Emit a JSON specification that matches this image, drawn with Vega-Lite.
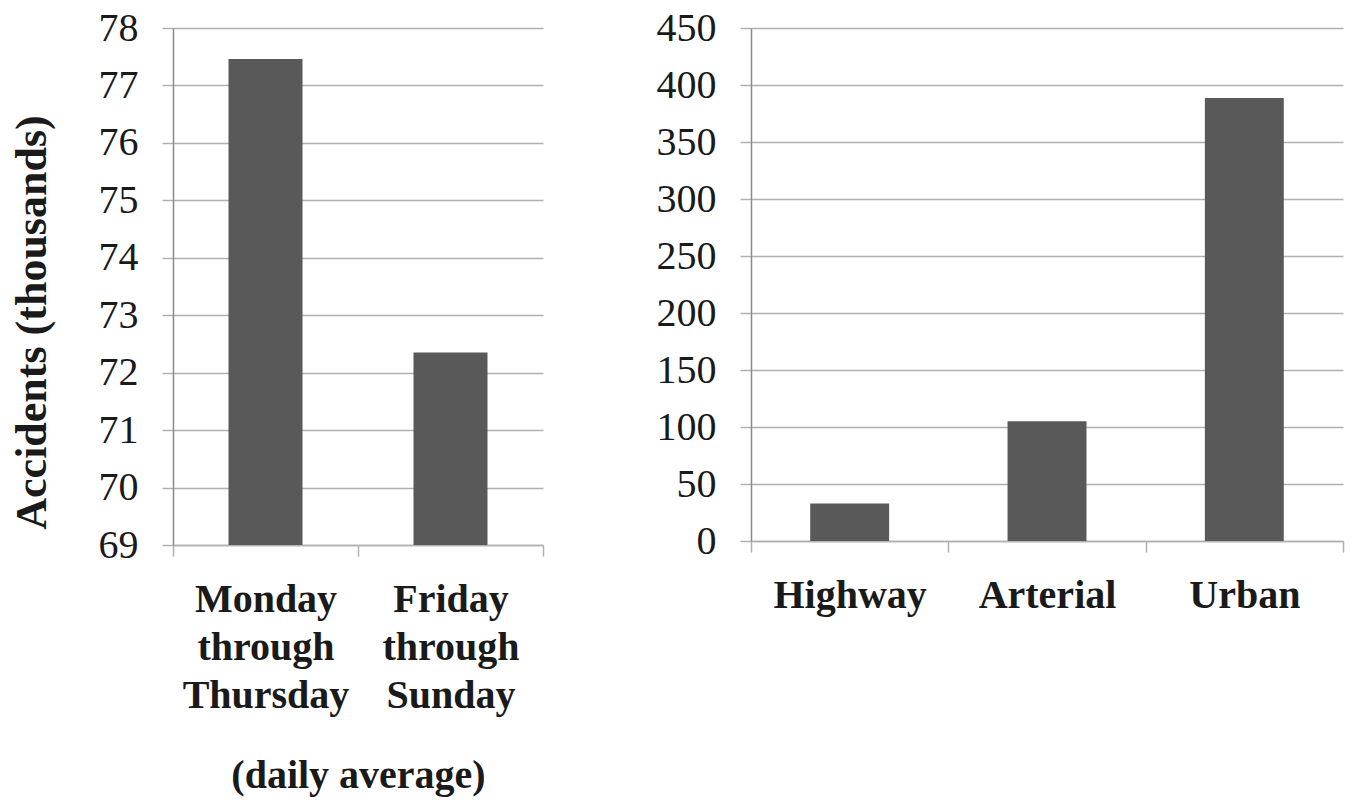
{
  "$schema": "https://vega.github.io/schema/vega-lite/v6.json",
  "background": "white",
  "padding": {"left": 10, "top": 8, "right": 6, "bottom": 6},
  "spacing": 112,
  "config": {
    "font": "Liberation Serif",
    "view": {"stroke": null},
    "axis": {
      "labelFont": "Liberation Serif",
      "titleFont": "Liberation Serif",
      "labelColor": "#1a1a1a",
      "titleColor": "#1a1a1a",
      "labelFontSize": 40,
      "labelLimit": 0,
      "labelOverlap": false,
      "gridColor": "#b0b0b0",
      "gridWidth": 1.5,
      "tickColor": "#b0b0b0",
      "tickWidth": 1.5,
      "domainColor": "#8a8a8a",
      "domainWidth": 1.5
    }
  },
  "hconcat": [
    {
      "width": 370,
      "height": 517,
      "data": {
        "values": [
          {"period": "Monday through Thursday", "accidents": 77.46},
          {"period": "Friday through Sunday", "accidents": 72.35}
        ]
      },
      "mark": {"type": "bar", "color": "#595959", "width": {"band": 0.4}},
      "encoding": {
        "x": {
          "field": "period",
          "type": "nominal",
          "sort": null,
          "scale": {"paddingInner": 0, "paddingOuter": 0},
          "axis": {
            "title": "(daily average)",
            "titleFontSize": 40,
            "titleFontWeight": "bold",
            "titlePadding": 40,
            "labelAngle": 0,
            "labelFontWeight": "bold",
            "labelExpr": "split(datum.label, ' ')",
            "labelLineHeight": 48,
            "labelPadding": 23,
            "tickBand": "extent",
            "tickSize": 11,
            "domainColor": "#b0b0b0",
            "grid": false
          }
        },
        "y": {
          "field": "accidents",
          "type": "quantitative",
          "scale": {"domain": [69, 78], "nice": false, "zero": false},
          "axis": {
            "title": "Accidents (thousands)",
            "titleFontSize": 44,
            "titleFontWeight": "bold",
            "titlePadding": 44,
            "titleY": 294,
            "values": [69, 70, 71, 72, 73, 74, 75, 76, 77, 78],
            "tickSize": 11,
            "labelPadding": 24,
            "grid": true
          }
        },
        "y2": {"datum": 69}
      }
    },
    {
      "width": 592,
      "height": 513,
      "data": {
        "values": [
          {"road": "Highway", "accidents": 33},
          {"road": "Arterial", "accidents": 105},
          {"road": "Urban", "accidents": 388.5}
        ]
      },
      "mark": {"type": "bar", "color": "#595959", "width": {"band": 0.4}},
      "encoding": {
        "x": {
          "field": "road",
          "type": "nominal",
          "sort": null,
          "scale": {"paddingInner": 0, "paddingOuter": 0},
          "axis": {
            "title": null,
            "labelAngle": 0,
            "labelFontWeight": "bold",
            "labelPadding": 23,
            "tickBand": "extent",
            "tickSize": 11,
            "domainColor": "#b0b0b0",
            "grid": false
          }
        },
        "y": {
          "field": "accidents",
          "type": "quantitative",
          "scale": {"domain": [0, 450], "nice": false},
          "axis": {
            "title": null,
            "values": [0, 50, 100, 150, 200, 250, 300, 350, 400, 450],
            "tickSize": 11,
            "labelPadding": 24,
            "grid": true
          }
        }
      }
    }
  ]
}
